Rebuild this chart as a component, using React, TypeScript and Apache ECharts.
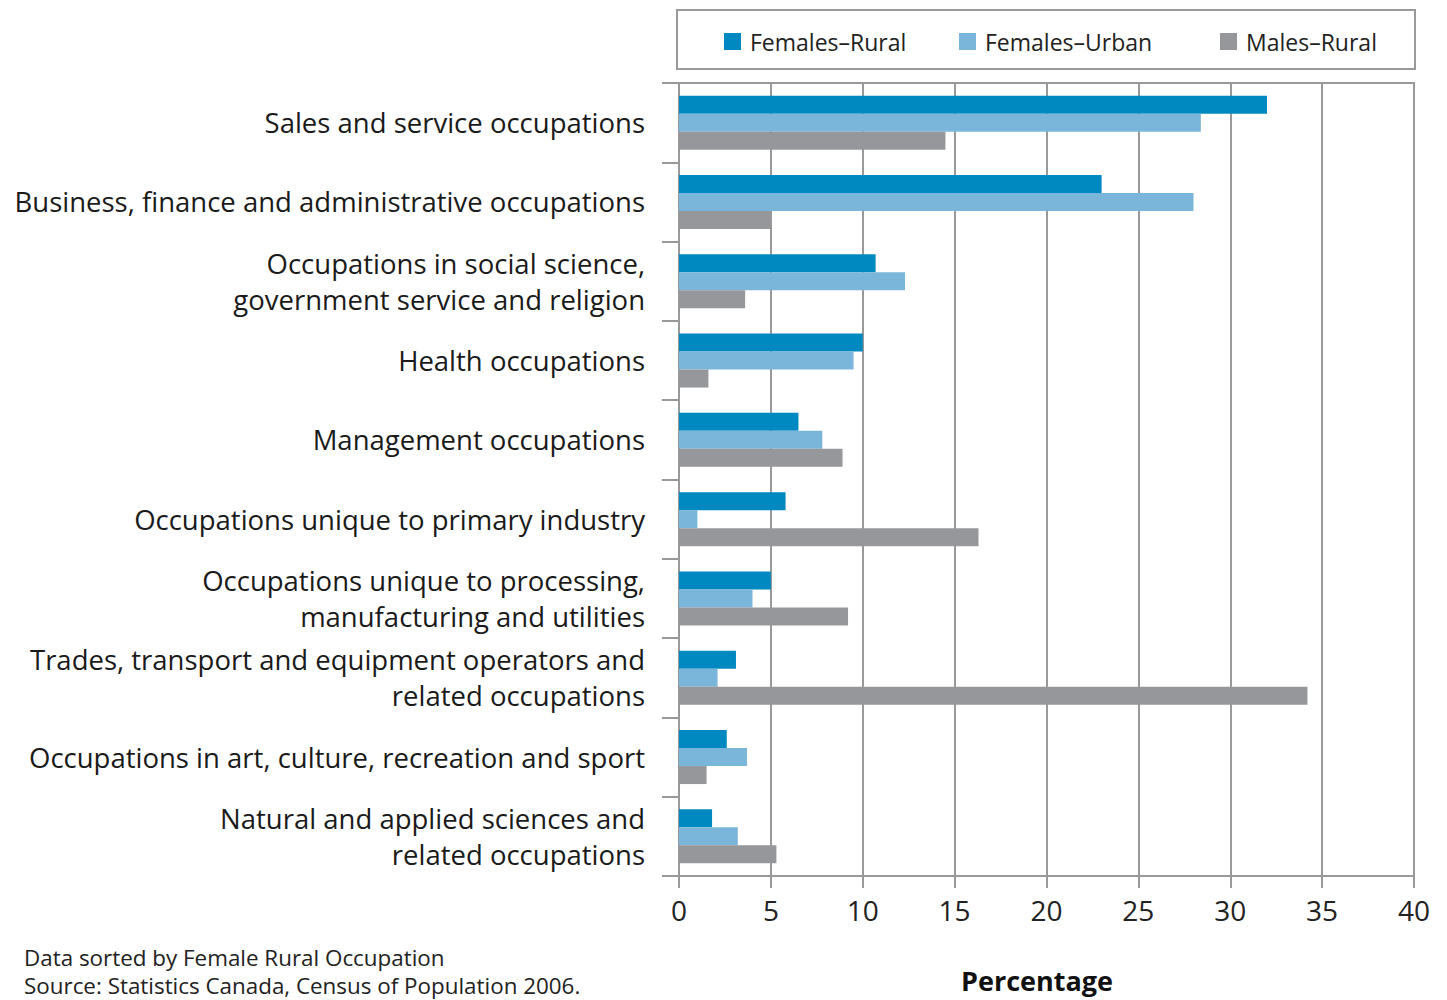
import React, { useEffect, useRef } from "react";
import * as echarts from "echarts";

const categories = [
  "Sales and service occupations",
  "Business, finance and administrative occupations",
  "Occupations in social science,\ngovernment service and religion",
  "Health occupations",
  "Management occupations",
  "Occupations unique to primary industry",
  "Occupations unique to processing,\nmanufacturing and utilities",
  "Trades, transport and equipment operators and\nrelated occupations",
  "Occupations in art, culture, recreation and sport",
  "Natural and applied sciences and\nrelated occupations",
];
const femalesRural = [32.0, 23.0, 10.7, 10.0, 6.5, 5.8, 5.0, 3.1, 2.6, 1.8];
const femalesUrban = [28.4, 28.0, 12.3, 9.5, 7.8, 1.0, 4.0, 2.1, 3.7, 3.2];
const malesRural = [14.5, 5.0, 3.6, 1.6, 8.9, 16.3, 9.2, 34.2, 1.5, 5.3];
const seriesNames = ["Females\u2013Rural", "Females\u2013Urban", "Males\u2013Rural"];
const colors = ["#0088C0", "#7AB6DA", "#96979B"];
const footnotes = ["Data sorted by Female Rural Occupation", "Source: Statistics Canada, Census of Population 2006."];
const axisTitle = "Percentage";

const FONT = "Open Sans";

export default function App() {
  const ref = useRef<HTMLDivElement>(null);
  useEffect(() => {
    document.body.style.margin = "0";
    const chart = echarts.init(ref.current!, null, { renderer: "svg" });
    const values = [femalesRural, femalesUrban, malesRural];
    const legendLefts = [724, 959, 1220];
    chart.setOption({
      animation: false,
      textStyle: { fontFamily: FONT },
      grid: {
        left: 679,
        right: 33,
        top: 83,
        bottom: 124,
        show: true,
        borderColor: "#999",
        borderWidth: 2,
      },
      legend: seriesNames.map((n, i) => ({
        data: [n],
        left: legendLefts[i],
        top: 30,
        itemWidth: 17,
        itemHeight: 17,
        itemGap: 10,
        icon: "rect",
        padding: 0,
        textStyle: { fontSize: 23, color: "#222", fontFamily: FONT, padding: [0, 0, 0, 4] },
      })),
      xAxis: {
        type: "value",
        min: 0,
        max: 40,
        interval: 5,
        axisLine: { show: true, lineStyle: { color: "#999", width: 2 } },
        axisTick: { show: true, length: 12, lineStyle: { color: "#999", width: 2 } },
        axisLabel: { fontSize: 28, color: "#222", margin: 20, fontFamily: FONT },
        splitLine: { show: true, lineStyle: { color: "#999", width: 2 } },
      },
      yAxis: {
        type: "category",
        data: categories,
        inverse: true,
        axisLine: { show: true, lineStyle: { color: "#999", width: 2 } },
        axisTick: { show: true, length: 17, lineStyle: { color: "#999", width: 2 } },
        axisLabel: {
          fontSize: 27.5,
          color: "#1a1a1a",
          margin: 34,
          lineHeight: 36,
          align: "right",
          fontFamily: FONT,
          padding: [4, 0, 0, 0],
        },
      },
      graphic: [
        {
          type: "rect",
          shape: { x: 677, y: 10, width: 738, height: 59 },
          style: { fill: "none", stroke: "#999", lineWidth: 2 },
        },
        {
          type: "text",
          x: 1037,
          y: 980,
          style: {
            text: axisTitle,
            fontSize: 27,
            fontWeight: "bold",
            fill: "#111",
            fontFamily: FONT,
            textAlign: "center",
            textVerticalAlign: "middle",
          },
        },
        {
          type: "text",
          x: 24,
          y: 943,
          style: {
            text: footnotes.join("\n"),
            fontSize: 22.4,
            lineHeight: 28,
            fill: "#222",
            fontFamily: FONT,
            textVerticalAlign: "top",
          },
        },
      ],
      series: seriesNames.map((n, i) => ({
        name: n,
        type: "bar",
        data: values[i],
        barWidth: 18,
        barGap: "0%",
        itemStyle: { color: colors[i] },
      })),
    });
    return () => chart.dispose();
  }, []);
  return <div ref={ref} style={{ width: 1447, height: 1000 }} />;
}
